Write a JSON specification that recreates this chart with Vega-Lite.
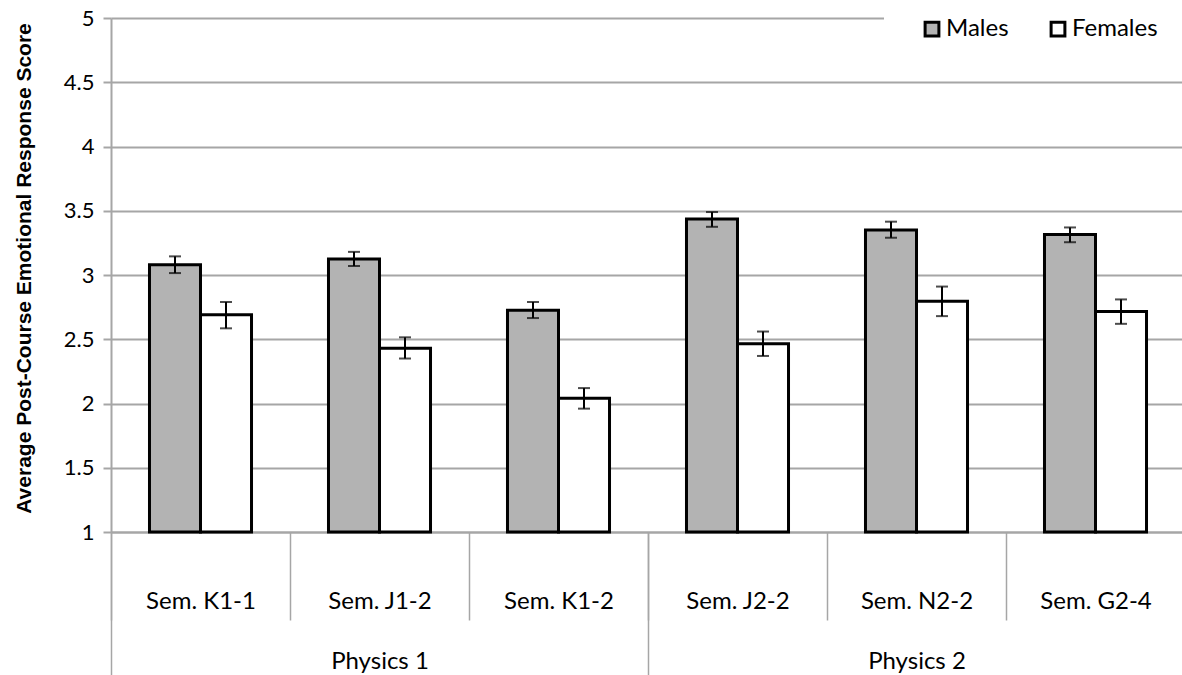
{
  "$schema": "https://vega.github.io/schema/vega-lite/v6.json",
  "width": 1071,
  "height": 514,
  "autosize": {"type": "none"},
  "padding": {"left": 111, "top": 18, "right": 0, "bottom": 143},
  "background": "white",
  "config": {"view": {"stroke": null}, "font": "Lato"},
  "data": {
    "values": [
      {"course": "Physics 1", "sem": "Sem. K1-1", "sex": "Males", "value": 3.08, "lo": 3.015, "hi": 3.145},
      {"course": "Physics 1", "sem": "Sem. K1-1", "sex": "Females", "value": 2.69, "lo": 2.585, "hi": 2.79},
      {"course": "Physics 1", "sem": "Sem. J1-2", "sex": "Males", "value": 3.125, "lo": 3.07, "hi": 3.18},
      {"course": "Physics 1", "sem": "Sem. J1-2", "sex": "Females", "value": 2.43, "lo": 2.35, "hi": 2.515},
      {"course": "Physics 1", "sem": "Sem. K1-2", "sex": "Males", "value": 2.725, "lo": 2.665, "hi": 2.79},
      {"course": "Physics 1", "sem": "Sem. K1-2", "sex": "Females", "value": 2.04, "lo": 1.96, "hi": 2.12},
      {"course": "Physics 2", "sem": "Sem. J2-2", "sex": "Males", "value": 3.435, "lo": 3.375, "hi": 3.49},
      {"course": "Physics 2", "sem": "Sem. J2-2", "sex": "Females", "value": 2.465, "lo": 2.37, "hi": 2.56},
      {"course": "Physics 2", "sem": "Sem. N2-2", "sex": "Males", "value": 3.35, "lo": 3.29, "hi": 3.415},
      {"course": "Physics 2", "sem": "Sem. N2-2", "sex": "Females", "value": 2.795, "lo": 2.68, "hi": 2.91},
      {"course": "Physics 2", "sem": "Sem. G2-4", "sex": "Males", "value": 3.315, "lo": 3.255, "hi": 3.37},
      {"course": "Physics 2", "sem": "Sem. G2-4", "sex": "Females", "value": 2.715, "lo": 2.62, "hi": 2.81}
    ]
  },
  "layer": [
    {
      "layer": [
        {
          "mark": {"type": "bar", "stroke": "black", "strokeWidth": 3},
          "encoding": {
            "x": {
              "field": "sem", "type": "nominal", "sort": null,
              "scale": {"type": "band", "domain": ["Sem. K1-1", "Sem. J1-2", "Sem. K1-2", "Sem. J2-2", "Sem. N2-2", "Sem. G2-4"], "range": [0, 1074], "paddingInner": 0.43, "paddingOuter": 0.215},
              "axis": {
                "orient": "bottom", "title": null, "grid": false,
                "ticks": false, "labels": false,
                "domainColor": "#a6a6a6", "domainWidth": 2
              }
            },
            "xOffset": {"field": "sex", "type": "nominal", "sort": null, "scale": {"domain": ["Males", "Females"], "paddingInner": 0, "paddingOuter": 0}},
            "y": {
              "field": "value", "type": "quantitative",
              "scale": {"domain": [1, 5], "nice": false, "zero": false},
              "axis": {
                "values": [1, 1.5, 2, 2.5, 3, 3.5, 4, 4.5, 5], "format": "~g",
                "grid": true, "gridColor": "#a6a6a6", "gridWidth": 2,
                "domainColor": "#a6a6a6", "domainWidth": 2,
                "tickSize": 8, "tickColor": "#a6a6a6", "tickWidth": 2,
                "labelFont": "Lato", "labelFontSize": 22, "labelColor": "black", "labelPadding": 9,
                "title": "Average Post-Course Emotional Response Score",
                "titleFont": "Liberation Sans", "titleFontSize": 21, "titleFontWeight": "bold", "titleColor": "black",
                "titlePadding": 29, "titleY": 250
              }
            },
            "y2": {"datum": 1},
            "fill": {
              "field": "sex", "type": "nominal", "sort": null,
              "scale": {"domain": ["Males", "Females"], "range": ["#b3b3b3", "#ffffff"]},
              "legend": {
                "title": null, "orient": "none", "legendX": 773, "legendY": -37, "direction": "horizontal",
                "symbolType": "square", "symbolSize": 190, "symbolStrokeWidth": 3, "symbolStrokeColor": "black", "symbolOpacity": 1,
                "labelFont": "Lato", "labelFontSize": 24, "labelColor": "black", "labelOffset": 2,
                "columnPadding": 36, "fillColor": "white", "padding": 36
              }
            }
          }
        },
        {
          "mark": {"type": "rule", "color": "black", "strokeWidth": 2},
          "encoding": {
            "x": {"field": "sem", "type": "nominal", "sort": null},
            "xOffset": {"field": "sex", "type": "nominal", "sort": null},
            "y": {"field": "lo", "type": "quantitative"},
            "y2": {"field": "hi"}
          }
        },
        {
          "mark": {"type": "tick", "color": "black", "size": 12, "thickness": 2, "orient": "horizontal"},
          "encoding": {
            "x": {"field": "sem", "type": "nominal", "sort": null},
            "xOffset": {"field": "sex", "type": "nominal", "sort": null},
            "y": {"field": "lo", "type": "quantitative"}
          }
        },
        {
          "mark": {"type": "tick", "color": "black", "size": 12, "thickness": 2, "orient": "horizontal"},
          "encoding": {
            "x": {"field": "sem", "type": "nominal", "sort": null},
            "xOffset": {"field": "sex", "type": "nominal", "sort": null},
            "y": {"field": "hi", "type": "quantitative"}
          }
        }
      ]
    },
    {
      "mark": {"type": "point", "opacity": 0},
      "encoding": {
        "x": {
          "field": "sem", "type": "nominal", "sort": null,
          "scale": {"type": "band", "domain": ["Sem. K1-1", "Sem. J1-2", "Sem. K1-2", "Sem. J2-2", "Sem. N2-2", "Sem. G2-4"], "range": [0, 1074], "paddingInner": 0, "paddingOuter": 0},
          "axis": {
            "orient": "bottom", "title": null, "grid": false, "domain": false,
            "tickBand": "extent", "tickSize": 88, "tickColor": "#a6a6a6", "tickWidth": 1.5,
            "labelFont": "Lato", "labelFontSize": 24, "labelColor": "black",
            "labelBaseline": "middle", "labelPadding": -19, "labelAngle": 0
          }
        }
      }
    },
    {
      "mark": {"type": "point", "opacity": 0},
      "encoding": {
        "x": {
          "field": "course", "type": "nominal", "sort": null,
          "scale": {"type": "band", "domain": ["Physics 1", "Physics 2"], "range": [0, 1074], "paddingInner": 0, "paddingOuter": 0},
          "axis": {
            "orient": "bottom", "title": null, "grid": false, "domain": false,
            "tickBand": "extent", "tickSize": 143, "tickColor": "#a6a6a6", "tickWidth": 1.5,
            "labelFont": "Lato", "labelFontSize": 24, "labelColor": "black",
            "labelBaseline": "middle", "labelPadding": -14, "labelAngle": 0
          }
        }
      }
    }
  ],
  "resolve": {"scale": {"x": "independent"}, "axis": {"x": "independent"}}
}
